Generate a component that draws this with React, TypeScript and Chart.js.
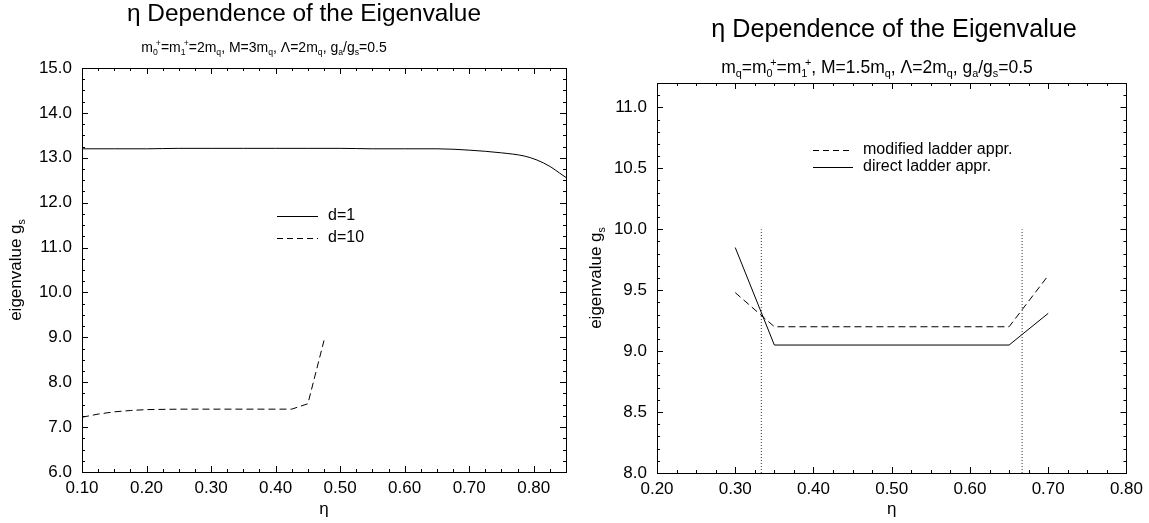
import React, { useEffect, useRef } from 'react';
import { Chart, registerables } from 'chart.js';

Chart.register(...registerables);

const FONT = '"Liberation Sans", Arial, Helvetica, sans-serif';

// ---------------- Left panel data ----------------
const leftTitle = 'η Dependence of the Eigenvalue';
const leftSeriesLabels = ['d=1', 'd=10'];
const leftEtaD1 = [0.10, 0.15, 0.20, 0.25, 0.30, 0.35, 0.40, 0.45, 0.50, 0.55, 0.60, 0.65, 0.70, 0.75, 0.785, 0.805, 0.826, 0.84, 0.85];
const leftGD1 = [13.20, 13.20, 13.20, 13.21, 13.21, 13.21, 13.21, 13.21, 13.21, 13.20, 13.20, 13.20, 13.17, 13.11, 13.04, 12.95, 12.80, 12.66, 12.56];
const leftEtaD10 = [0.10, 0.125, 0.15, 0.175, 0.20, 0.25, 0.30, 0.35, 0.40, 0.425, 0.45, 0.475];
const leftGD10 = [7.22, 7.29, 7.34, 7.37, 7.39, 7.40, 7.40, 7.40, 7.40, 7.40, 7.52, 8.93];
const leftXTicks = [0.10, 0.20, 0.30, 0.40, 0.50, 0.60, 0.70, 0.80];
const leftYTicks = [6, 7, 8, 9, 10, 11, 12, 13, 14, 15];

// ---------------- Right panel data ----------------
const rightTitle = 'η Dependence of the Eigenvalue';
const rightSeriesLabels = ['modified ladder appr.', 'direct ladder appr.'];
const rightEta = [0.30, 0.35, 0.65, 0.70];
const rightGModified = [9.48, 9.20, 9.20, 9.62];
const rightGDirect = [9.85, 9.05, 9.05, 9.31];
const rightMarkEta = [1 / 3, 2 / 3];
const rightMarkRange = [8.0, 10.0];
const rightXTicks = [0.20, 0.30, 0.40, 0.50, 0.60, 0.70, 0.80];
const rightYTicks = [8.0, 8.5, 9.0, 9.5, 10.0, 10.5, 11.0];

type Seg = [string, 'n' | 'b' | 'p' | 'bp'];

const leftSubtitle: Seg[] = [
  ['m', 'n'], ['0+', 'bp'], ['=m', 'n'], ['1+', 'bp'], ['=2m', 'n'], ['q', 'b'],
  [', M=3m', 'n'], ['q', 'b'], [', Λ=2m', 'n'], ['q', 'b'], [', g', 'n'], ['a', 'b'],
  ['/g', 'n'], ['s', 'b'], ['=0.5', 'n'],
];
const rightSubtitle: Seg[] = [
  ['m', 'n'], ['q', 'b'], ['=m', 'n'], ['0+', 'bp'], ['=m', 'n'], ['1+', 'bp'],
  [', M=1.5m', 'n'], ['q', 'b'], [', Λ=2m', 'n'], ['q', 'b'], [', g', 'n'], ['a', 'b'],
  ['/g', 'n'], ['s', 'b'], ['=0.5', 'n'],
];
const yAxisTitle: Seg[] = [['eigenvalue g', 'n'], ['s', 'b']];
const xAxisTitle = 'η';

function font(size: number) {
  return `${size}px ${FONT}`;
}

function bpWidth(ctx: CanvasRenderingContext2D, t: string) {
  const w0 = ctx.measureText(t[0]).width;
  const w1 = ctx.measureText(t[1]).width;
  return { w0, w1, w: w0 * 0.6 + w1 };
}

function richWidth(ctx: CanvasRenderingContext2D, segs: Seg[], size: number) {
  const small = size * 0.62;
  let w = 0;
  for (const [t, k] of segs) {
    if (k === 'n') {
      ctx.font = font(size);
      w += ctx.measureText(t).width;
    } else if (k === 'bp') {
      ctx.font = font(small);
      w += bpWidth(ctx, t).w;
    } else {
      ctx.font = font(small);
      w += ctx.measureText(t).width;
    }
  }
  return w;
}

function drawRich(ctx: CanvasRenderingContext2D, segs: Seg[], x: number, y: number, size: number) {
  const small = size * 0.62;
  ctx.textBaseline = 'alphabetic';
  ctx.textAlign = 'left';
  let cx = x;
  for (const [t, k] of segs) {
    if (k === 'n') {
      ctx.font = font(size);
      ctx.fillText(t, cx, y);
      cx += ctx.measureText(t).width;
    } else if (k === 'b') {
      ctx.font = font(small);
      ctx.fillText(t, cx, y + size * 0.22);
      cx += ctx.measureText(t).width;
    } else if (k === 'p') {
      ctx.font = font(small);
      ctx.fillText(t, cx, y - size * 0.4);
      cx += ctx.measureText(t).width;
    } else {
      ctx.font = font(small);
      const { w0, w } = bpWidth(ctx, t);
      ctx.fillText(t[0], cx, y + size * 0.22);
      ctx.fillText(t[1], cx + w0 * 0.6, y - size * 0.42);
      cx += w;
    }
  }
}

interface Panel {
  title: string;
  titleSize: number;
  titleX: number;
  titleY: number;
  subtitle: Seg[];
  subSize: number;
  subX: number;
  subY: number;
  xMin: number; xMax: number; xMinor: number; xTicks: number[]; xDec: number;
  yMin: number; yMax: number; yMinor: number; yTicks: number[]; yDec: number;
  yTitleX: number;
  legend: { label: string; dash: number[]; y: number }[];
  legendX: number;
  legendW: number;
  datasets: any[];
  padRight: number;
  padTop: number;
  padBottom: number;
}

function makeDecor(p: Panel) {
  return {
    id: 'decor',
    afterDraw(chart: any) {
      const ctx: CanvasRenderingContext2D = chart.ctx;
      const { left, right, top, bottom } = chart.chartArea;
      const xs = chart.scales.x;
      const ys = chart.scales.y;
      ctx.save();
      ctx.strokeStyle = '#000';
      ctx.fillStyle = '#000';
      ctx.lineWidth = 1;
      ctx.setLineDash([]);
      // frame
      ctx.strokeRect(Math.round(left) + 0.5, Math.round(top) + 0.5, Math.round(right - left), Math.round(bottom - top));
      // inward ticks on all four sides
      const isMajor = (v: number, arr: number[]) => arr.some((a) => Math.abs(a - v) < 1e-6);
      ctx.beginPath();
      for (let i = 0; ; i++) {
        const v = p.xMin + i * p.xMinor;
        if (v > p.xMax + 1e-9) break;
        const len = isMajor(v, p.xTicks) ? 6 : 3;
        const px = Math.round(xs.getPixelForValue(v)) + 0.5;
        ctx.moveTo(px, bottom); ctx.lineTo(px, bottom - len);
        ctx.moveTo(px, top); ctx.lineTo(px, top + len);
      }
      for (let i = 0; ; i++) {
        const v = p.yMin + i * p.yMinor;
        if (v > p.yMax + 1e-9) break;
        const len = isMajor(v, p.yTicks) ? 6 : 3;
        const py = Math.round(ys.getPixelForValue(v)) + 0.5;
        ctx.moveTo(left, py); ctx.lineTo(left + len, py);
        ctx.moveTo(right, py); ctx.lineTo(right - len, py);
      }
      ctx.stroke();

      // titles
      ctx.font = font(p.titleSize);
      ctx.textAlign = 'center';
      ctx.textBaseline = 'alphabetic';
      ctx.fillText(p.title, p.titleX, p.titleY);
      const sw = richWidth(ctx, p.subtitle, p.subSize);
      drawRich(ctx, p.subtitle, p.subX - sw / 2, p.subY, p.subSize);

      // x axis title
      const cxArea = (left + right) / 2;
      ctx.font = font(17);
      ctx.textAlign = 'center';
      ctx.textBaseline = 'alphabetic';
      ctx.fillText(xAxisTitle, cxArea, 514);

      // y axis title (rotated)
      ctx.save();
      ctx.translate(p.yTitleX, (top + bottom) / 2);
      ctx.rotate(-Math.PI / 2);
      const yw = richWidth(ctx, yAxisTitle, 17);
      drawRich(ctx, yAxisTitle, -yw / 2, 0, 17);
      ctx.restore();

      // legend
      for (const item of p.legend) {
        ctx.beginPath();
        ctx.setLineDash(item.dash);
        ctx.moveTo(p.legendX, item.y + 0.5);
        ctx.lineTo(p.legendX + p.legendW, item.y + 0.5);
        ctx.stroke();
        ctx.setLineDash([]);
        ctx.font = font(16);
        ctx.textAlign = 'left';
        ctx.textBaseline = 'middle';
        ctx.fillText(item.label, p.legendX + p.legendW + 10, item.y);
      }
      ctx.restore();
    },
  };
}

function makeConfig(p: Panel) {
  return {
    type: 'line',
    data: { datasets: p.datasets },
    options: {
      animation: false,
      responsive: false,
      devicePixelRatio: 1,
      layout: { padding: { left: 0, right: p.padRight, top: p.padTop, bottom: p.padBottom } },
      plugins: { legend: { display: false }, title: { display: false }, tooltip: { enabled: false } },
      elements: { point: { radius: 0 }, line: { tension: 0 } },
      scales: {
        x: {
          type: 'linear',
          min: p.xMin,
          max: p.xMax,
          grid: { display: false, drawTicks: false },
          border: { display: false },
          afterBuildTicks: (s: any) => { s.ticks = p.xTicks.map((v) => ({ value: v })); },
          afterFit: (s: any) => { s.height = 30; },
          ticks: {
            autoSkip: false,
            maxRotation: 0,
            padding: 6,
            color: '#000',
            font: { family: FONT, size: 17 },
            callback: (v: any) => Number(v).toFixed(p.xDec),
          },
        },
        y: {
          type: 'linear',
          min: p.yMin,
          max: p.yMax,
          grid: { display: false, drawTicks: false },
          border: { display: false },
          afterBuildTicks: (s: any) => { s.ticks = p.yTicks.map((v) => ({ value: v })); },
          afterFit: (s: any) => { s.width = 82; },
          ticks: {
            autoSkip: false,
            padding: 10,
            color: '#000',
            font: { family: FONT, size: 17 },
            callback: (v: any) => Number(v).toFixed(p.yDec),
          },
        },
      },
    },
    plugins: [makeDecor(p)],
  };
}

const toPts = (xs: number[], ys: number[]) => xs.map((x, i) => ({ x, y: ys[i] }));

const leftPanel: Panel = {
  title: leftTitle, titleSize: 24.4, titleX: 304, titleY: 21,
  subtitle: leftSubtitle, subSize: 14, subX: 264, subY: 52,
  xMin: 0.1, xMax: 0.85, xMinor: 0.025, xTicks: leftXTicks, xDec: 2,
  yMin: 6, yMax: 15, yMinor: 0.25, yTicks: leftYTicks, yDec: 1,
  yTitleX: 21,
  legend: [
    { label: leftSeriesLabels[0], dash: [], y: 216 },
    { label: leftSeriesLabels[1], dash: [6, 4], y: 238 },
  ],
  legendX: 277, legendW: 41,
  padRight: 9, padTop: 68, padBottom: 21,
  datasets: [
    { label: leftSeriesLabels[0], data: toPts(leftEtaD1, leftGD1), borderColor: '#000', borderWidth: 1, fill: false, cubicInterpolationMode: 'monotone' },
    { label: leftSeriesLabels[1], data: toPts(leftEtaD10, leftGD10), borderColor: '#000', borderWidth: 1, borderDash: [7, 4], fill: false },
  ],
};

const RIGHT_OFFSET = 575;

const rightPanel: Panel = {
  title: rightTitle, titleSize: 25.2, titleX: 894 - RIGHT_OFFSET, titleY: 37,
  subtitle: rightSubtitle, subSize: 17.5, subX: 877 - RIGHT_OFFSET, subY: 73,
  xMin: 0.2, xMax: 0.8, xMinor: 0.025, xTicks: rightXTicks, xDec: 2,
  yMin: 8, yMax: 11.2, yMinor: 0.1, yTicks: rightYTicks, yDec: 1,
  yTitleX: 601 - RIGHT_OFFSET,
  legend: [
    { label: rightSeriesLabels[0], dash: [6, 4], y: 150 },
    { label: rightSeriesLabels[1], dash: [], y: 167 },
  ],
  legendX: 813 - RIGHT_OFFSET, legendW: 40,
  padRight: 20, padTop: 83, padBottom: 20,
  datasets: [
    { label: rightSeriesLabels[0], data: toPts(rightEta, rightGModified), borderColor: '#000', borderWidth: 1, borderDash: [7, 4], fill: false },
    { label: rightSeriesLabels[1], data: toPts(rightEta, rightGDirect), borderColor: '#000', borderWidth: 1, fill: false },
    ...rightMarkEta.map((e) => ({
      label: 'η=' + e.toFixed(3),
      data: rightMarkRange.map((g) => ({ x: e, y: g })),
      borderColor: '#333', borderWidth: 1, borderDash: [1, 2], fill: false,
    })),
  ],
};

function ChartCanvas({ panel, width, height }: { panel: Panel; width: number; height: number }) {
  const ref = useRef<HTMLCanvasElement | null>(null);
  useEffect(() => {
    if (!ref.current) return;
    const chart = new Chart(ref.current, makeConfig(panel) as any);
    return () => chart.destroy();
  }, [panel]);
  return <canvas ref={ref} width={width} height={height} style={{ display: 'block', width, height }} />;
}

export default function App() {
  return (
    <div style={{ position: 'fixed', left: 0, top: 0, width: 1149, height: 523, background: '#fff', display: 'flex' }}>
      <ChartCanvas panel={leftPanel} width={RIGHT_OFFSET} height={523} />
      <ChartCanvas panel={rightPanel} width={1149 - RIGHT_OFFSET} height={523} />
    </div>
  );
}
